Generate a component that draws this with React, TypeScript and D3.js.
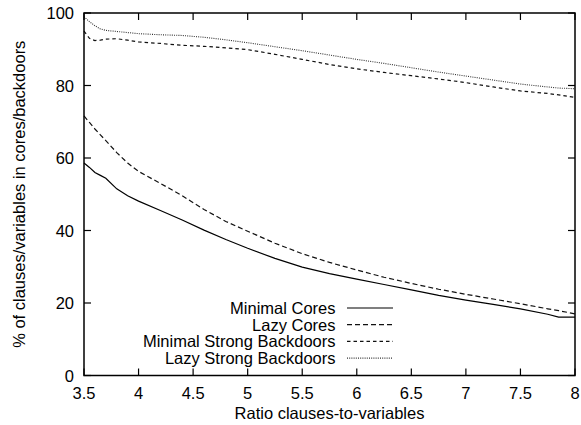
import React from "react";
import * as d3 from "d3";

const xs = [3.5, 3.55, 3.6, 3.65, 3.7, 3.8, 3.9, 4.0, 4.2, 4.4, 4.6, 4.8, 5.0, 5.25, 5.5, 5.75, 6.0, 6.25, 6.5, 6.75, 7.0, 7.25, 7.5, 7.75, 7.85, 8.0];
const minimalCores = [58.6, 57.4, 56.0, 55.2, 54.4, 51.5, 49.6, 48.1, 45.5, 42.9, 40.1, 37.5, 35.1, 32.3, 29.9, 28.1, 26.6, 25.1, 23.6, 22.1, 20.8, 19.6, 18.4, 16.9, 16.1, 16.1];
const lazyCores = [71.6, 69.8, 68.0, 66.4, 64.8, 61.5, 58.6, 56.3, 53.0, 49.6, 45.8, 42.5, 39.8, 36.5, 33.6, 31.2, 29.1, 27.1, 25.4, 23.8, 22.4, 21.1, 19.8, 18.4, 17.9, 17.0];
const minimalSB = [95.0, 93.0, 92.4, 92.5, 92.8, 92.9, 92.5, 92.0, 91.6, 91.1, 90.8, 90.4, 89.9, 88.6, 87.2, 85.8, 84.6, 83.6, 82.7, 81.8, 80.8, 79.6, 78.5, 77.8, 77.4, 76.7];
const lazySB = [99.0, 97.6, 96.5, 95.6, 95.2, 94.9, 94.6, 94.3, 94.0, 93.8, 93.3, 92.6, 91.8, 90.7, 89.6, 88.4, 87.2, 86.1, 84.9, 83.7, 82.6, 81.5, 80.4, 79.6, 79.3, 79.1];

const seriesNames = ["Minimal Cores", "Lazy Cores", "Minimal Strong Backdoors", "Lazy Strong Backdoors"];
const seriesValues = [minimalCores, lazyCores, minimalSB, lazySB];
const dashes = ["none", "5,3", "3.5,3", "1,1.2"];
const strokeColors = ["#000", "#111", "#111", "#333"];

const xTicks = [3.5, 4, 4.5, 5, 5.5, 6, 6.5, 7, 7.5, 8];
const yTicks = [0, 20, 40, 60, 80, 100];

export default function App() {
  const W = 581, H = 425;
  const left = 84, right = 575, top = 13, bottom = 375.5;
  const x = d3.scaleLinear().domain([3.5, 8]).range([left, right]);
  const y = d3.scaleLinear().domain([0, 100]).range([bottom, top]);
  const font = "'Liberation Sans', Arial, sans-serif";
  const fs = 16.5;
  const tl = 7;
  const line = d3.line<number>().x((_, i) => x(xs[i])).y((v) => y(v));
  const legX = 335.5;
  const legY0 = 308;
  const legDy = 16.7;
  return (
    <svg width={W} height={H} style={{ position: "absolute", left: 0, top: 0, background: "#fff" }} fontFamily={font}>
      <rect x={0} y={0} width={W} height={H} fill="#fff" />
      {seriesValues.map((vals, i) => (
        <path key={i} d={line(vals) || ""} fill="none" stroke={strokeColors[i]} strokeWidth={i === 3 ? 1.1 : 1.2} strokeDasharray={dashes[i]} />
      ))}
      {xTicks.map((t) => (
        <g key={"x" + t}>
          <line x1={x(t)} x2={x(t)} y1={bottom} y2={bottom - tl} stroke="#000" strokeWidth={1.2} />
          <line x1={x(t)} x2={x(t)} y1={top} y2={top + tl} stroke="#000" strokeWidth={1.2} />
          <text x={x(t)} y={bottom + 23} fontSize={fs} textAnchor="middle">{String(t)}</text>
        </g>
      ))}
      {yTicks.map((t) => (
        <g key={"y" + t}>
          <line x1={left} x2={left + tl} y1={y(t)} y2={y(t)} stroke="#000" strokeWidth={1.2} />
          <line x1={right} x2={right - tl} y1={y(t)} y2={y(t)} stroke="#000" strokeWidth={1.2} />
          <text x={left - 10} y={y(t) + 6} fontSize={fs} textAnchor="end">{String(t)}</text>
        </g>
      ))}
      <rect x={left} y={top} width={right - left} height={bottom - top} fill="none" stroke="#000" strokeWidth={1.5} />
      {seriesNames.map((n, i) => (
        <g key={n}>
          <text x={legX} y={legY0 + i * legDy + 6} fontSize={fs} textAnchor="end">{n}</text>
          <line x1={347} x2={393} y1={legY0 + i * legDy} y2={legY0 + i * legDy} stroke={strokeColors[i]} strokeWidth={i === 3 ? 1.1 : 1.2} strokeDasharray={dashes[i]} />
        </g>
      ))}
      <text x={(left + right) / 2} y={419} fontSize={fs} textAnchor="middle">Ratio clauses-to-variables</text>
      <text transform={`translate(25,${(top + bottom) / 2}) rotate(-90)`} fontSize={fs} textAnchor="middle">% of clauses/variables in cores/backdoors</text>
    </svg>
  );
}
